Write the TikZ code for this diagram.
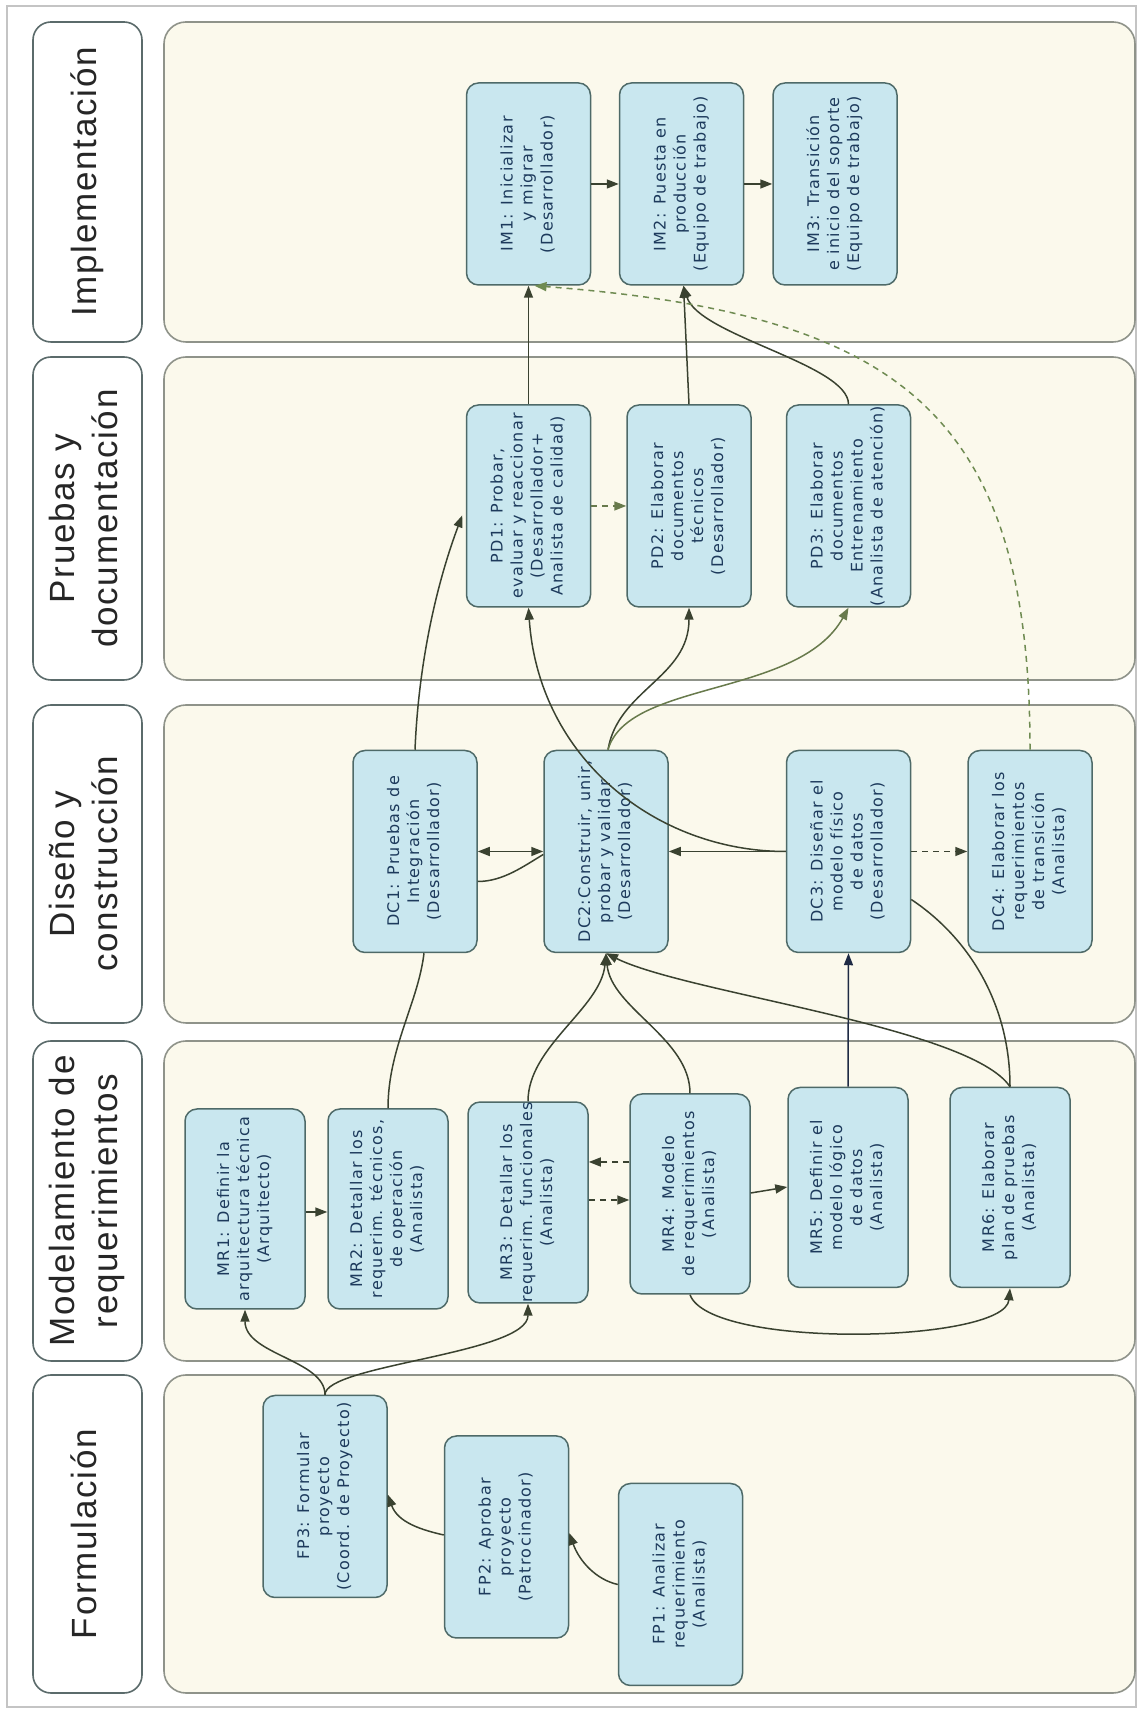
\documentclass[tikz,border=0pt]{standalone}
\usepackage{graphicx}
\usepackage{fontspec}
\setmainfont{DejaVu Sans}
\newfontfamily\boxfont[LetterSpace=8]{DejaVu Sans}
\newfontfamily\lanefont[LetterSpace=5]{Liberation Sans}
\usetikzlibrary{arrows.meta}

\definecolor{framegray}{HTML}{C4C4C4}
\definecolor{lanefill}{HTML}{FBF9EC}
\definecolor{laneline}{HTML}{8F938A}
\definecolor{headline}{HTML}{5B6B6B}
\definecolor{boxfill}{HTML}{C9E7EF}
\definecolor{boxline}{HTML}{4E6A68}
\definecolor{boxtext}{HTML}{1D3A5C}
\definecolor{lineol}{HTML}{3A4230}
\definecolor{olivetwo}{HTML}{687A4C}
\definecolor{dashgreen}{HTML}{6F8B52}
\definecolor{navy}{HTML}{1E2A44}

% vertical (bottom-to-top) multi-line text
\newcommand\vtext[1]{\rotatebox{90}{\begin{tabular}{@{}c@{}}#1\end{tabular}}}

\begin{document}
\begin{tikzpicture}[x=1pt,y=1pt,
  lanebody/.style={draw=laneline, fill=lanefill, line width=1.6pt,
    rounded corners=22pt, minimum width=971pt, inner sep=0pt},
  lanehead/.style={draw=headline, fill=white, line width=1.6pt,
    rounded corners=18pt, minimum width=109pt, inner sep=0pt,
    text=black!85, font=\lanefont\fontsize{35}{43}\selectfont},
  task/.style={draw=boxline, fill=boxfill, line width=1.5pt,
    rounded corners=12pt, minimum width=124pt, minimum height=202pt,
    inner sep=0pt, text=boxtext, font=\boxfont\fontsize{16}{20}\selectfont},
  mrtask/.style={task, minimum width=120pt, minimum height=200pt},
  conn/.style={draw=lineol, line width=1.5pt},
  arr/.style={conn, -{Triangle[length=12pt,width=9pt]}},
  biarr/.style={conn, {Triangle[length=12pt,width=9pt]}-{Triangle[length=12pt,width=9pt]}},
  dasharr/.style={arr, dash pattern=on 6pt off 5pt}
]
\useasboundingbox (0,0) rectangle (1141,1713);
\fill[white] (0,0) rectangle (1141,1713);
\draw[framegray, line width=1.2pt] (7,6) rectangle (1136,1707);

% ---- lanes ----
\node[lanebody, minimum height=320pt] (B1) at (649.5,1531) {};
\node[lanebody, minimum height=323pt] (B2) at (649.5,1194.5) {};
\node[lanebody, minimum height=318pt] (B3) at (649.5,849) {};
\node[lanebody, minimum height=320pt] (B4) at (649.5,512) {};
\node[lanebody, minimum height=318pt] (B5) at (649.5,179) {};

\node[lanehead, minimum height=320pt] (H1) at (87.5,1531) {\vtext{Implementación}};
\node[lanehead, minimum height=323pt] (H2) at (87.5,1194.5) {\vtext{Pruebas y\\documentación}};
\node[lanehead, minimum height=318pt] (H3) at (87.5,849) {\vtext{Diseño y\\construcción}};
\node[lanehead, minimum height=320pt] (H4) at (87.5,512) {\vtext{Modelamiento de\\requerimientos}};
\node[lanehead, minimum height=318pt] (H5) at (87.5,179) {\vtext{Formulación}};

% ---- tasks: Implementación ----
\node[task] (IM1) at (528.5,1529) {\vtext{IM1: Inicializar\\y migrar\\(Desarrollador)}};
\node[task] (IM2) at (681.5,1529) {\vtext{IM2: Puesta en\\producción\\(Equipo de trabajo)}};
\node[task] (IM3) at (835,1529) {\vtext{IM3: Transición\\e inicio del soporte\\(Equipo de trabajo)}};

% ---- tasks: Pruebas y documentación ----
\node[task] (PD1) at (528.5,1207) {\vtext{PD1: Probar,\\evaluar y reaccionar\\(Desarrollador+\\Analista de calidad)}};
\node[task] (PD2) at (689,1207) {\vtext{PD2: Elaborar\\documentos\\técnicos\\(Desarrollador)}};
\node[task] (PD3) at (848.5,1207) {\vtext{PD3: Elaborar\\documentos\\Entrenamiento\\(Analista de atención)}};

% ---- tasks: Diseño y construcción ----
\node[task] (DC1) at (415,861.5) {\vtext{DC1: Pruebas de\\Integración\\(Desarrollador)}};
\node[task] (DC2) at (606,861.5) {\vtext{DC2:Construir, unir,\\probar y validar\\(Desarrollador)}};
\node[task] (DC3) at (848.5,861.5) {\vtext{DC3: Diseñar el\\modelo físico\\de datos\\(Desarrollador)}};
\node[task] (DC4) at (1030,861.5) {\vtext{DC4: Elaborar los\\requerimientos\\de transición\\(Analista)}};

% ---- tasks: Modelamiento de requerimientos ----
\node[mrtask] (MR1) at (245,504) {\vtext{MR1: Definir la\\arquitectura técnica\\(Arquitecto)}};
\node[mrtask] (MR2) at (388,504) {\vtext{MR2: Detallar los\\requerim. técnicos,\\de operación\\(Analista)}};
\node[mrtask] (MR3) at (528,510.5) {\vtext{MR3: Detallar los\\requerim. funcionales\\(Analista)}};
\node[mrtask] (MR4) at (690,519) {\vtext{MR4: Modelo\\de requerimientos\\(Analista)}};
\node[mrtask] (MR5) at (848,525.5) {\vtext{MR5: Definir el\\modelo lógico\\de datos\\(Analista)}};
\node[mrtask] (MR6) at (1010,525.5) {\vtext{MR6: Elaborar\\plan de pruebas\\(Analista)}};

% ---- tasks: Formulación ----
\node[task] (FP3) at (325,216.5) {\vtext{FP3: Formular\\proyecto\\(Coord. de Proyecto)}};
\node[task] (FP2) at (506.5,176) {\vtext{FP2: Aprobar\\proyecto\\(Patrocinador)}};
\node[task] (FP1) at (680.5,128.5) {\vtext{FP1: Analizar\\requerimiento\\(Analista)}};

% ---- flows within Formulación ----
\draw[arr] (FP1.west) .. controls +(-22,5) and +(10,-28) .. ([yshift=4]FP2.east);
\draw[arr] ([yshift=2]FP2.west) .. controls +(-22,5) and +(10,-28) .. ([yshift=2]FP3.east);

% ---- Formulación -> Modelamiento ----
\draw[arr] (FP3.north) .. controls +(0,35) and +(0,-45) .. (MR1.south);
\draw[arr] (FP3.north) .. controls +(0,30) and +(0,-50) .. (MR3.south);

% ---- flows within Modelamiento ----
\draw[arr] ([yshift=-3]MR1.east) -- ([yshift=-3]MR2.west);
\draw[dasharr] ([yshift=32]MR4.west) -- ([yshift=40.5]MR3.east);
\draw[dasharr] ([yshift=2.5]MR3.east) -- ([yshift=-6]MR4.west);
\draw[arr] ([yshift=1]MR4.east) -- ([yshift=0.5]MR5.west);
\draw[arr] (MR4.south) .. controls +(20,-55) and +(-5,-55) .. (MR6.south);

% ---- Modelamiento -> Diseño ----
\draw[conn] (MR2.north) .. controls +(0,60) and +(-6,-50) .. ([xshift=9]DC1.south);
\draw[arr, draw=navy] (MR5.north) -- (DC3.south);
\draw[arr] (MR3.north) .. controls +(0,55) and +(-5,-55) .. (DC2.south);
\draw[arr] (MR4.north) .. controls +(0,55) and +(5,-55) .. (DC2.south);
\draw[arr] (MR6.north) .. controls +(-40,60) and +(80,-40) .. (DC2.south);
\draw[conn] ([yshift=-48]DC3.east) .. controls +(60,-40) and +(0,80) .. (MR6.north);

% ---- flows within Diseño ----
\draw[biarr] (DC1.east) -- (DC2.west);
\draw[conn] ([yshift=-30]DC1.east) .. controls +(25,0) and +(-20,-12) .. ([yshift=-3]DC2.west);
\draw[arr] (DC3.west) -- (DC2.east);
\draw[dasharr] (DC3.east) -- (DC4.west);

% ---- Diseño -> Pruebas ----
\draw[arr, shorten >=10pt] (DC1.north) .. controls +(5,120) and +(-15,-40) .. (PD1.west);
\draw[arr] (DC3.west) .. controls +(-130,0) and +(10,-150) .. (PD1.south);
\draw[arr] ([xshift=2]DC2.north) .. controls +(10,60) and +(0,-70) .. (PD2.south);
\draw[arr, draw=olivetwo] ([xshift=2]DC2.north) .. controls +(20,70) and +(-50,-90) .. (PD3.south);
\draw[dasharr, draw=olivetwo] (PD1.east) -- (PD2.west);

% ---- Pruebas -> Implementación ----
\draw[arr] (PD1.north) -- (IM1.south);
\draw[arr] (PD2.north) -- ([xshift=2]IM2.south);
\draw[arr] (PD3.north) .. controls +(0,40) and +(15,-50) .. ([xshift=2]IM2.south);
\draw[dasharr, draw=dashgreen] (DC4.north) .. controls +(0,337.5) and +(365,-28) .. ([xshift=6]IM1.south);

% ---- flows within Implementación ----
\draw[arr] (IM1.east) -- (IM2.west);
\draw[arr] (IM2.east) -- (IM3.west);
\end{tikzpicture}
\end{document}
